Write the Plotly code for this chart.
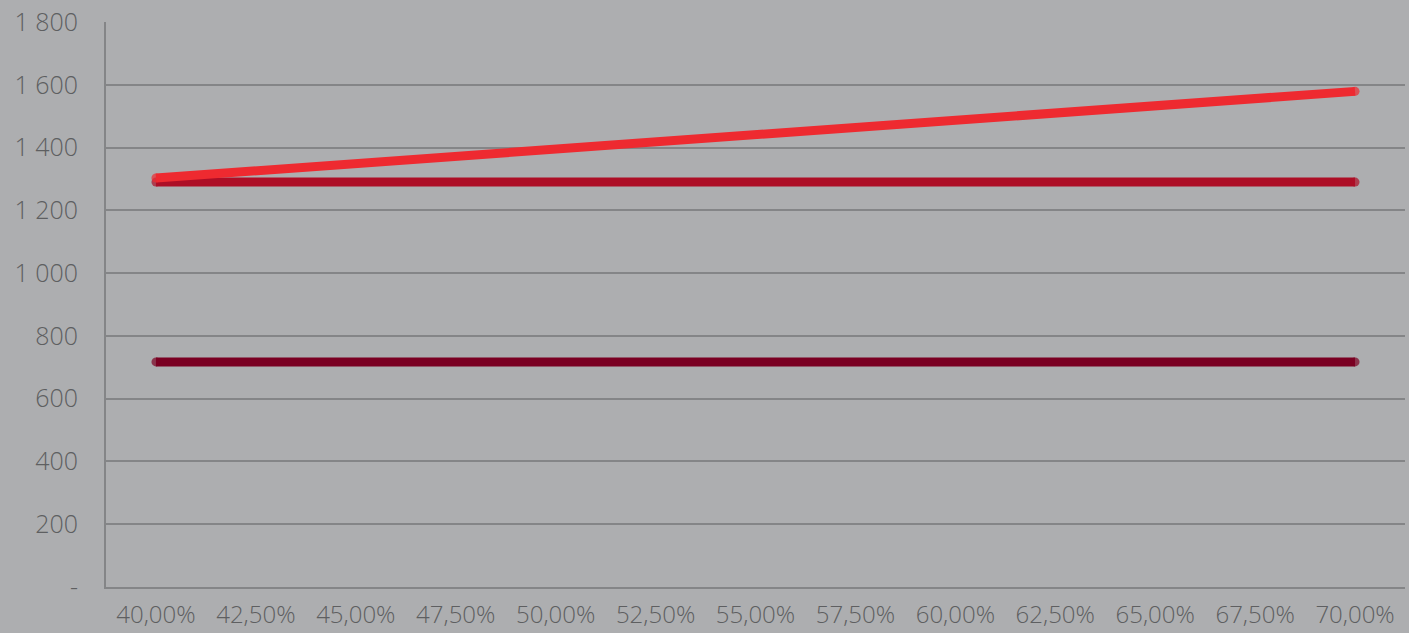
import plotly.graph_objects as go

categories = ["40,00%", "42,50%", "45,00%", "47,50%", "50,00%", "52,50%", "55,00%",
              "57,50%", "60,00%", "62,50%", "65,00%", "67,50%", "70,00%"]
series_rising = [1303, 1326, 1349, 1372, 1395, 1418, 1441, 1464, 1487, 1510, 1533, 1556, 1579]
series_flat_high = [1290] * 13
series_flat_low = [717] * 13
y_tick_vals = [0, 200, 400, 600, 800, 1000, 1200, 1400, 1600, 1800]
y_tick_text = ["-", "200", "400", "600", "800", "1 000", "1 200", "1 400", "1 600", "1 800"]

BG = "#adaeb0"
GRID = "#848587"
TXT = "#5e5f61"
FONT = "'Open Sans', 'DejaVu Sans', sans-serif"

n = len(categories)
end_sizes = [9] + [0] * (n - 2) + [9]

fig = go.Figure()
for ys, col in [(series_flat_low, "#7a0022"), (series_flat_high, "#ad0e26"), (series_rising, "#ee2a30")]:
    fig.add_trace(go.Scatter(x=categories, y=ys, mode="lines+markers",
                             line=dict(color=col, width=9),
                             marker=dict(color=col, size=end_sizes, line=dict(width=0)),
                             showlegend=False, hoverinfo="skip"))

fig.update_layout(
    width=1409, height=633,
    paper_bgcolor=BG, plot_bgcolor=BG,
    margin=dict(l=106, r=4, t=22, b=46, autoexpand=False),
    font=dict(family=FONT, size=24, color=TXT, weight=300),
    showlegend=False,
)
fig.update_xaxes(type="category", range=[-0.5, 12.5], showgrid=False,
                 showline=True, linecolor=GRID, linewidth=2, automargin=False,
                 ticks="", ticklabelstandoff=5,
                 tickfont=dict(family=FONT, size=24, weight=300, color=TXT))
fig.update_yaxes(range=[0, 1800], tickvals=y_tick_vals, ticktext=y_tick_text,
                 showgrid=True, gridcolor=GRID, gridwidth=2, zeroline=False,
                 showline=True, linecolor=GRID, linewidth=2, automargin=False,
                 ticks="", ticklabelstandoff=21,
                 tickfont=dict(family=FONT, size=25, weight=300, color=TXT))

fig.write_html("out.html")
